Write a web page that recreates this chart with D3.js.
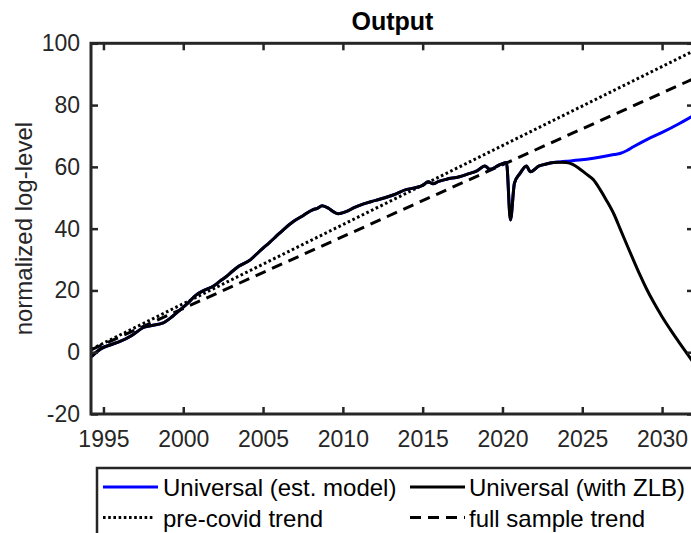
<!DOCTYPE html>
<html>
<head>
<meta charset="utf-8">
<script src="https://cdn.jsdelivr.net/npm/d3@7/dist/d3.min.js"></script>
<style>
  html, body { margin: 0; padding: 0; background: #fff; }
  svg { display: block; font-family: "Liberation Sans", Arial, Helvetica, sans-serif; }
</style>
</head>
<body>
<svg id="chart" width="691" height="533"></svg>
<script>
// ---------------- data ----------------
const histYears = [1994.25, 1994.8, 1995.5, 1996.0, 1996.8, 1997.5, 1998.2, 1998.7, 1999.3, 1999.8,
  2000.3, 2000.8, 2001.3, 2001.9, 2002.3, 2002.7, 2003.1, 2003.5, 2004.2, 2004.6,
  2005.0, 2005.4, 2005.8, 2006.3, 2006.9, 2007.5, 2008.1, 2008.4, 2008.7, 2009.1,
  2009.4, 2009.7, 2010.2, 2010.7, 2011.3, 2011.8, 2012.3, 2013.15, 2014.0, 2014.5,
  2015.03, 2015.34, 2015.65, 2016.0, 2016.5, 2017.3, 2017.9, 2018.4, 2018.9, 2019.2,
  2019.8, 2020.25, 2020.5, 2020.75, 2021.1, 2021.5, 2021.75, 2022.3, 2022.8, 2023.2];
const histValues = [-1.4, 1.0, 2.5, 3.4, 5.5, 8.0, 8.8, 9.4, 11.5, 13.7,
  16.0, 18.5, 20.0, 21.4, 23.0, 24.5, 26.3, 27.9, 29.9, 31.8,
  33.7, 35.5, 37.4, 39.8, 42.3, 44.2, 46.1, 46.6, 47.4, 46.6,
  45.5, 44.8, 45.5, 46.8, 48.0, 48.8, 49.5, 50.9, 52.7, 53.2,
  54.1, 55.2, 54.5, 55.3, 56.0, 56.8, 57.8, 58.7, 60.3, 59.2,
  60.6, 61.4, 42.8, 54.7, 57.9, 60.3, 58.4, 60.3, 61.0, 61.4];

const estYears = [2023.6, 2024.0, 2024.8, 2025.7, 2026.5, 2027.0, 2027.4, 2027.8, 2028.2, 2029.1, 2030.1, 2031.0, 2032.0];
const estValues = [61.6, 61.8, 62.2, 62.8, 63.5, 64.0, 64.4, 65.3, 66.5, 69.0, 71.4, 73.8, 76.7];

const zlbYears = [2023.6, 2024.0, 2024.4, 2024.8, 2025.2, 2025.7, 2026.1, 2026.5, 2027.0, 2027.4,
  2027.8, 2028.2, 2028.6, 2029.0, 2029.5, 2030.0, 2030.5, 2031.0, 2031.5, 2032.0];
const zlbValues = [61.5, 61.4, 60.8, 59.5, 57.9, 55.8, 52.8, 49.3, 44.5, 39.6,
  34.7, 29.9, 25.2, 20.8, 15.9, 11.5, 7.5, 3.7, 0.0, -3.6];

const trendYears = [1994.25, 2032.0];
const preCovidTrend = [1.0, 97.6];
const fullSampleTrend = [0.8, 88.6];

const xTicks = [1995, 2000, 2005, 2010, 2015, 2020, 2025, 2030];
const yTicks = [-20, 0, 20, 40, 60, 80, 100];

const legendLabels = ["Universal (est. model)", "Universal (with ZLB)", "pre-covid trend", "full sample trend"];

// ---------------- layout ----------------
const svg = d3.select("#chart");
const axisColor = "#262626";
const L = 91, R = 694, T = 43.3, B = 414;

const x = d3.scaleLinear().domain([1994.22, 2032.0]).range([L, R]);
const y = d3.scaleLinear().domain([-20, 100]).range([B, T]);

svg.append("defs").append("clipPath").attr("id", "clip")
  .append("rect").attr("x", L).attr("y", T).attr("width", R - L).attr("height", B - T);

const toPts = (xs, vs) => xs.map((t, i) => [t, vs[i]]);
const line = d3.line().x(d => x(d[0])).y(d => y(d[1])).curve(d3.curveMonotoneX);
const straight = d3.line().x(d => x(d[0])).y(d => y(d[1]));

const hist = toPts(histYears, histValues);
const estSeries = hist.concat(toPts(estYears, estValues));
const zlbSeries = hist.concat(toPts(zlbYears, zlbValues));

const g = svg.append("g").attr("clip-path", "url(#clip)");

g.append("path").attr("d", straight(toPts(trendYears, preCovidTrend)))
  .attr("fill", "none").attr("stroke", "#000").attr("stroke-width", 3)
  .attr("stroke-dasharray", "2.6,2.6");
g.append("path").attr("d", straight(toPts(trendYears, fullSampleTrend)))
  .attr("fill", "none").attr("stroke", "#000").attr("stroke-width", 3)
  .attr("stroke-dasharray", "11,7");
g.append("path").attr("d", line(estSeries))
  .attr("fill", "none").attr("stroke", "#0000ff").attr("stroke-width", 3).attr("stroke-linejoin", "round");
g.append("path").attr("d", line(zlbSeries))
  .attr("fill", "none").attr("stroke", "#000").attr("stroke-width", 3).attr("stroke-linejoin", "round");

// ---------------- axes ----------------
const tickLen = 7;
const fs = 23;
const fmt = d => String(d);
const xAxisB = d3.axisBottom(x).tickValues(xTicks).tickFormat(fmt).tickSizeInner(-tickLen).tickSizeOuter(0).tickPadding(tickLen + 10);
const xAxisT = d3.axisTop(x).tickValues(xTicks).tickFormat("").tickSizeInner(-tickLen).tickSizeOuter(0);
const yAxisL = d3.axisLeft(y).tickValues(yTicks).tickFormat(fmt).tickSizeInner(-tickLen).tickSizeOuter(0).tickPadding(tickLen + 4);
const yAxisR = d3.axisRight(y).tickValues(yTicks).tickFormat("").tickSizeInner(-tickLen).tickSizeOuter(0);

function styleAxis(sel) {
  sel.select(".domain").remove();
  sel.selectAll(".tick line").attr("stroke", axisColor).attr("stroke-width", 2.5);
  sel.selectAll(".tick text").attr("fill", axisColor).attr("font-size", fs)
    .attr("font-family", "'Liberation Sans', Arial, sans-serif");
}
svg.append("g").attr("transform", `translate(0,${B})`).call(xAxisB).call(styleAxis);
svg.append("g").attr("transform", `translate(0,${T})`).call(xAxisT).call(styleAxis);
svg.append("g").attr("transform", `translate(${L},0)`).call(yAxisL).call(styleAxis);
svg.append("g").attr("transform", `translate(${R},0)`).call(yAxisR).call(styleAxis);

svg.append("rect").attr("x", L).attr("y", T).attr("width", R - L).attr("height", B - T)
  .attr("fill", "none").attr("stroke", axisColor).attr("stroke-width", 3);

// title
svg.append("text").attr("x", (L + R) / 2).attr("y", 30).attr("text-anchor", "middle")
  .attr("font-size", 25).attr("font-weight", "bold").attr("fill", "#000").text("Output");

// y label
svg.append("text").attr("transform", `translate(32,${(T + B) / 2}) rotate(-90)`)
  .attr("text-anchor", "middle").attr("font-size", 24).attr("fill", axisColor)
  .text("normalized log-level");

// ---------------- legend ----------------
const lg = svg.append("g");
lg.append("rect").attr("x", 97).attr("y", 468).attr("width", 700).attr("height", 120)
  .attr("fill", "#fff").attr("stroke", axisColor).attr("stroke-width", 2.5);
const items = [
  { label: legendLabels[0], color: "#0000ff", dash: null, x0: 103, x1: 158, tx: 163, cy: 487 },
  { label: legendLabels[1], color: "#000", dash: null, x0: 410, x1: 465, tx: 469, cy: 487 },
  { label: legendLabels[2], color: "#000", dash: "2.6,2.6", x0: 103, x1: 155, tx: 163, cy: 517.5 },
  { label: legendLabels[3], color: "#000", dash: "11,7", x0: 410, x1: 465, tx: 469, cy: 517.5 }
];
items.forEach(it => {
  const ln = lg.append("line").attr("x1", it.x0).attr("x2", it.x1).attr("y1", it.cy).attr("y2", it.cy)
    .attr("stroke", it.color).attr("stroke-width", 3);
  if (it.dash) ln.attr("stroke-dasharray", it.dash);
  lg.append("text").attr("x", it.tx).attr("y", it.cy + 9).attr("font-size", 24)
    .attr("fill", "#000").text(it.label);
});
</script>
</body>
</html>
